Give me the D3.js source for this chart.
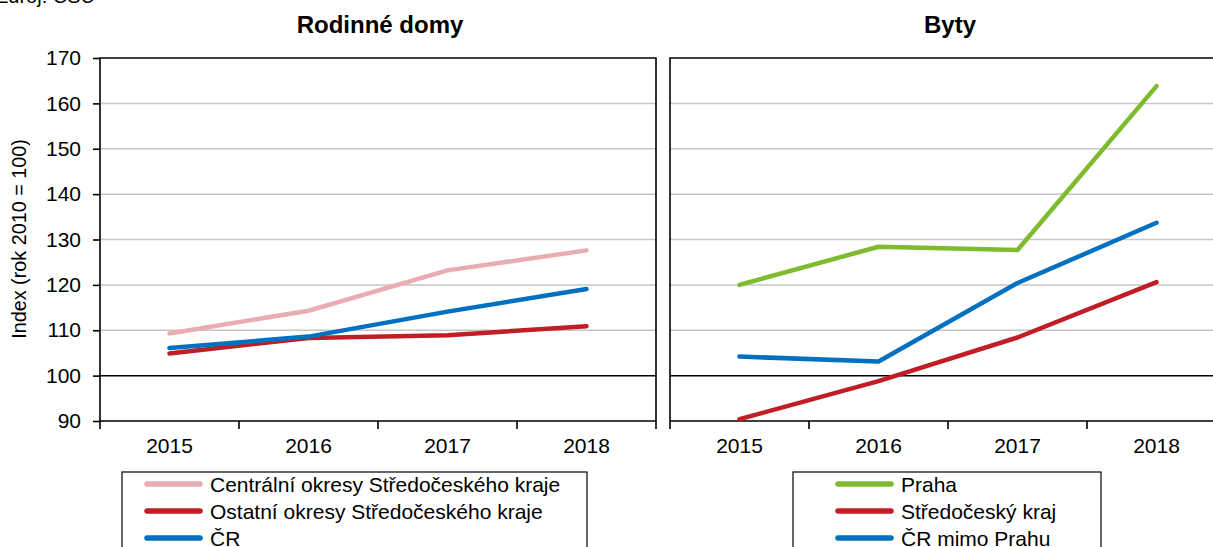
<!DOCTYPE html>
<html lang="cs">
<head>
<meta charset="utf-8">
<script src="https://cdn.jsdelivr.net/npm/d3@7"></script>
<style>
  html, body { margin: 0; padding: 0; background: #fff; }
  svg { display: block; font-family: Arial, "Liberation Sans", sans-serif; }
</style>
</head>
<body>
<svg id="chart" width="1213" height="547"></svg>
<script>
// Index cen nemovitostí (rok 2010 = 100)
const years = ["2015", "2016", "2017", "2018"];
const yTicks = [90, 100, 110, 120, 130, 140, 150, 160, 170];

// Rodinné domy
const houseNames = ["Centrální okresy Středočeského kraje", "Ostatní okresy Středočeského kraje", "ČR"];
const centralniOkresy = [109.3, 114.3, 123.2, 127.6];
const ostatniOkresy   = [104.9, 108.3, 108.9, 110.9];
const crDomy          = [106.1, 108.6, 114.1, 119.1];

// Byty
const flatNames = ["Praha", "Středočeský kraj", "ČR mimo Prahu"];
const praha           = [120.0, 128.4, 127.7, 163.8];
const stredoceskyKraj = [90.4, 98.8, 108.4, 120.6];
const crMimoPrahu     = [104.2, 103.1, 120.4, 133.7];

const colors = {
  pink: "#e9adb1",
  red: "#c01d26",
  blue: "#0070c0",
  green: "#7fbb2e"
};

const svg = d3.select("#chart");
const FONT = 21;

const y = d3.scaleLinear().domain([90, 170]).range([421, 58]);

// Zdroj (horní okraj je oříznutý)
svg.append("text")
  .attr("x", 95).attr("y", 3)
  .attr("text-anchor", "end")
  .attr("font-size", 20)
  .text("Zdroj: ČSÚ");

// Popisek osy Y
svg.append("text")
  .attr("transform", "translate(26,239) rotate(-90)")
  .attr("text-anchor", "middle")
  .attr("font-size", 19.8)
  .text("Index (rok 2010 = 100)");

function panel(cfg) {
  const x = d3.scaleBand().domain(years).range(cfg.range).padding(0);
  const [x0, x1] = cfg.range;
  const g = svg.append("g");

  // mřížka
  g.append("g").selectAll("line")
    .data(yTicks.filter(v => v > 100 && v < 170))
    .join("line")
    .attr("x1", x0).attr("x2", x1)
    .attr("y1", d => y(d)).attr("y2", d => y(d))
    .attr("stroke", "#c6c6c6").attr("stroke-width", 1.5);

  // referenční linie 100
  g.append("line")
    .attr("x1", x0).attr("x2", x1)
    .attr("y1", y(100)).attr("y2", y(100))
    .attr("stroke", "#000").attr("stroke-width", 1.5);

  // rámeček grafu (horní a boční hrany)
  g.append("path")
    .attr("d", `M${x0},${y(90)}V${y(170)}H${x1}V${y(90)}`)
    .attr("fill", "none").attr("stroke", "#000").attr("stroke-width", 1.6);

  // osa X
  const bounds = years.map(d => x(d)).concat([x1]);
  g.append("line")
    .attr("x1", x0).attr("x2", x1)
    .attr("y1", y(90)).attr("y2", y(90))
    .attr("stroke", "#000").attr("stroke-width", 1.6);
  g.append("g").selectAll("line")
    .data(bounds)
    .join("line")
    .attr("x1", d => d).attr("x2", d => d)
    .attr("y1", y(90)).attr("y2", y(90) + 8)
    .attr("stroke", "#000").attr("stroke-width", 1.6);
  g.append("g").selectAll("text")
    .data(years)
    .join("text")
    .attr("x", d => x(d) + x.bandwidth() / 2)
    .attr("y", 453)
    .attr("text-anchor", "middle")
    .attr("font-size", FONT)
    .text(d => d);

  // osa Y
  if (cfg.yAxis) {
    const ax = g.append("g")
      .attr("transform", `translate(${x0},0)`)
      .call(d3.axisLeft(y).tickValues(yTicks).tickSize(7).tickPadding(12).tickSizeOuter(0));
    ax.select(".domain").remove();
    ax.selectAll(".tick line").attr("stroke", "#000").attr("stroke-width", 1.6);
    ax.selectAll(".tick text")
      .attr("font-size", FONT)
      .attr("font-family", "Arial, 'Liberation Sans', sans-serif")
      .attr("fill", "#000");
  }

  // titulek
  svg.append("text")
    .attr("x", (x0 + x1) / 2 + 2).attr("y", 33)
    .attr("text-anchor", "middle")
    .attr("font-size", 24).attr("font-weight", "bold")
    .text(cfg.title);

  // řady
  const line = d3.line()
    .x((d, i) => x(years[i]) + x.bandwidth() / 2)
    .y(d => y(d));
  g.append("g").selectAll("path")
    .data(cfg.series)
    .join("path")
    .attr("d", d => line(d.values))
    .attr("fill", "none")
    .attr("stroke", d => d.color)
    .attr("stroke-width", 4.5)
    .attr("stroke-linecap", "round")
    .attr("stroke-linejoin", "round");

  // legenda
  const lg = svg.append("g");
  lg.append("rect")
    .attr("x", cfg.legend.x).attr("y", 472)
    .attr("width", cfg.legend.w).attr("height", 100)
    .attr("fill", "#fff").attr("stroke", "#000").attr("stroke-width", 1.2);
  const rows = lg.selectAll("g.row")
    .data(cfg.series)
    .join("g")
    .attr("class", "row")
    .attr("transform", (d, i) => `translate(0,${484 + i * 27})`);
  rows.append("line")
    .attr("x1", cfg.legend.lx).attr("x2", cfg.legend.lx + 53)
    .attr("y1", 0).attr("y2", 0)
    .attr("stroke", d => d.color).attr("stroke-width", 5.5)
    .attr("stroke-linecap", "round");
  rows.append("text")
    .attr("x", cfg.legend.lx + 63).attr("y", 7.5)
    .attr("font-size", FONT)
    .text(d => d.name);
}

panel({
  title: "Rodinné domy",
  range: [100, 656],
  yAxis: true,
  series: [
    { name: houseNames[0], values: centralniOkresy, color: colors.pink },
    { name: houseNames[1], values: ostatniOkresy, color: colors.red },
    { name: houseNames[2], values: crDomy, color: colors.blue }
  ],
  legend: { x: 122, w: 465, lx: 147 }
});

panel({
  title: "Byty",
  range: [670, 1226],
  yAxis: false,
  series: [
    { name: flatNames[0], values: praha, color: colors.green },
    { name: flatNames[1], values: stredoceskyKraj, color: colors.red },
    { name: flatNames[2], values: crMimoPrahu, color: colors.blue }
  ],
  legend: { x: 793, w: 308, lx: 838 }
});
</script>
</body>
</html>
